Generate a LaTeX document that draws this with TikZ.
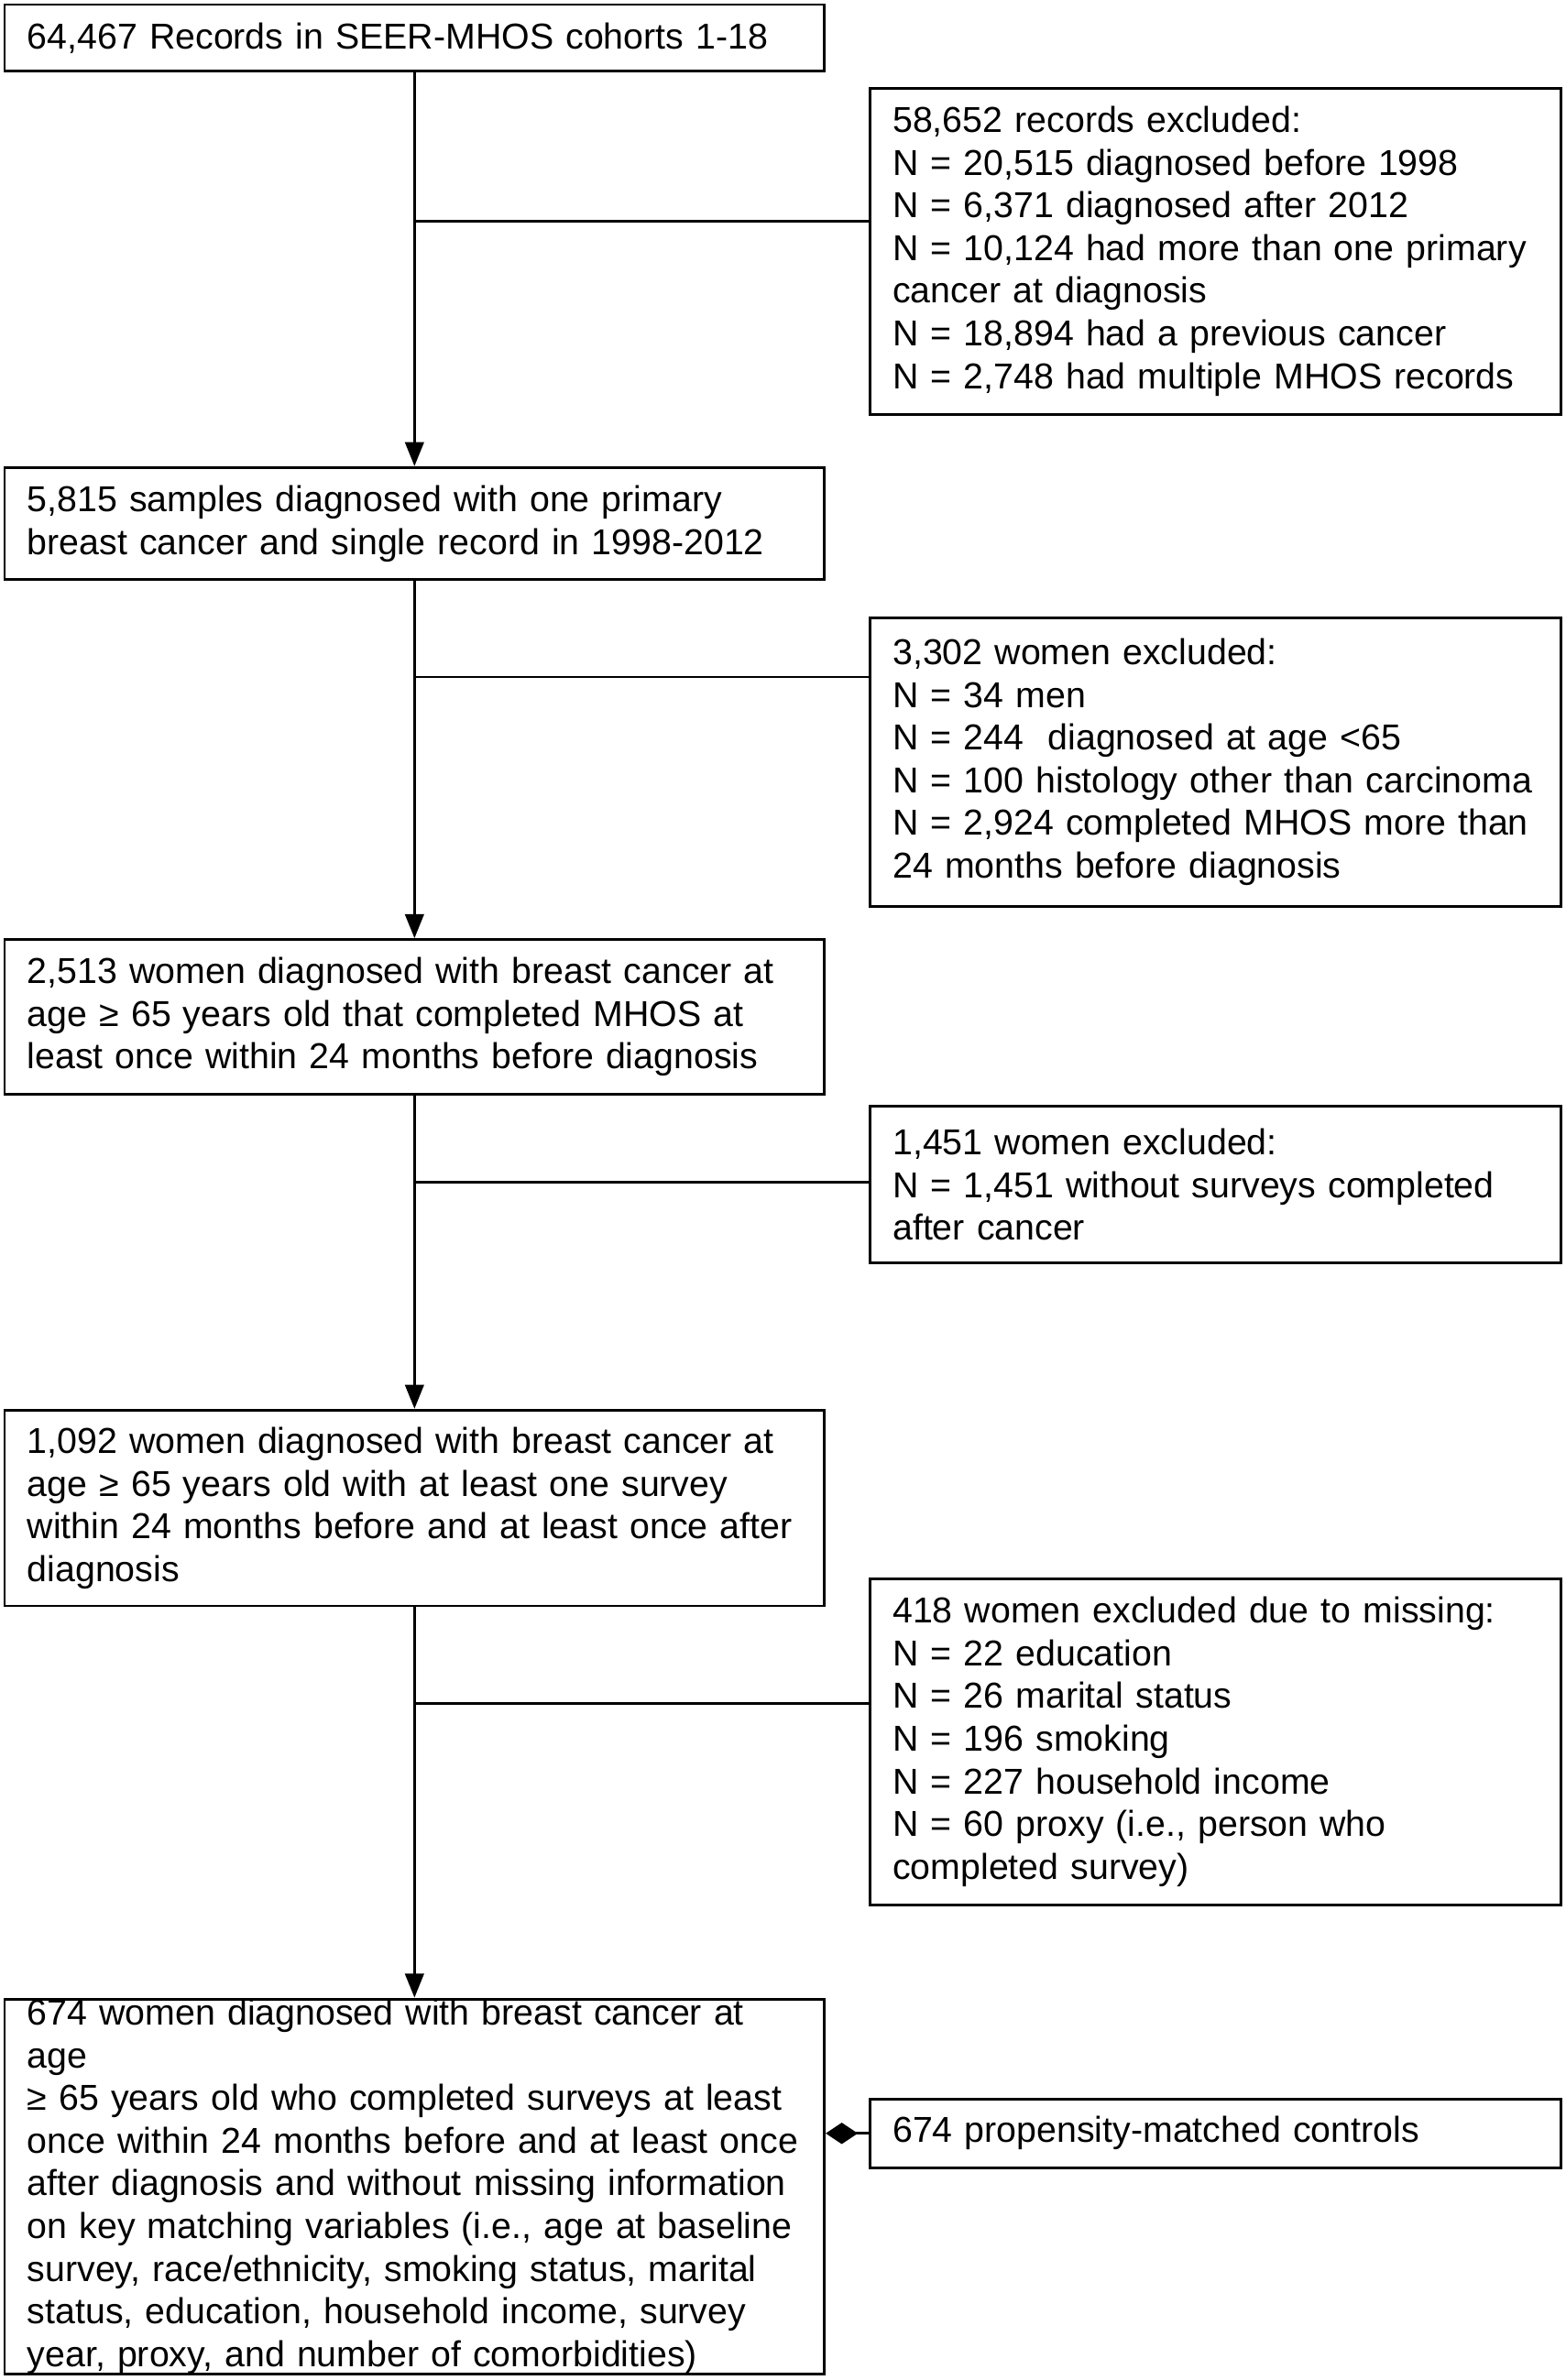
\documentclass[tikz,border=0pt]{standalone}
\usepackage{fontspec}
\setmainfont{Liberation Sans}
\usetikzlibrary{arrows.meta}
\tikzstyle{box}=[draw=black,line width=1pt,align=left,inner xsep=0.3cm,inner ysep=0pt,font=\fontsize{13.5}{16}\selectfont]
\tikzstyle{mainbox}=[box,minimum width=10.8cm,text width=10.2cm]
\tikzstyle{exbox}=[box,minimum width=9.1cm,text width=8.5cm]
\tikzstyle{flow}=[line width=1pt,-{Triangle[length=9pt,width=7pt]}]

\begin{document}
\begin{tikzpicture}
\useasboundingbox (0,0) rectangle (20.62,-31.36);
% main column
\node[mainbox,minimum height=0.88cm] (rec) at (5.46,-0.5) {64,467 Records in SEER-MHOS cohorts 1-18};
\node[mainbox,minimum height=1.48cm] (one) at (5.46,-6.9) {5,815 samples diagnosed with one primary\\breast cancer and single record in 1998-2012};
\node[mainbox,minimum height=2.04cm] (age) at (5.46,-13.4) {2,513 women diagnosed with breast cancer at\\age ≥ 65 years old that completed MHOS at\\least once within 24 months before diagnosis};
\node[mainbox,minimum height=2.58cm] (surv) at (5.46,-19.87) {1,092 women diagnosed with breast cancer at\\age ≥ 65 years old with at least one survey\\within 24 months before and at least once after\\diagnosis};
\node[mainbox,minimum height=4.9cm] (fin) at (5.46,-28.81) {674 women diagnosed with breast cancer at age\\≥ 65 years old who completed surveys at least\\once within 24 months before and at least once\\after diagnosis and without missing information\\on key matching variables (i.e., age at baseline\\survey, race/ethnicity, smoking status, marital\\status, education, household income, survey\\year, proxy, and number of comorbidities)};
% exclusions
\node[exbox,minimum height=4.3cm] (exA) at (16.01,-3.31) {58,652 records excluded:\\N = 20,515 diagnosed before 1998\\N = 6,371 diagnosed after 2012\\N = 10,124 had more than one primary\\cancer at diagnosis\\N = 18,894 had a previous cancer\\N = 2,748 had multiple MHOS records};
\node[exbox,minimum height=3.8cm] (exB) at (16.01,-10.04) {3,302 women excluded:\\N = 34 men\\N = 244 \ diagnosed at age <65\\N = 100 histology other than carcinoma\\N = 2,924 completed MHOS more than\\24 months before diagnosis};
\node[exbox,minimum height=2.06cm] (exC) at (16.01,-15.61) {1,451 women excluded:\\N = 1,451 without surveys completed\\after cancer};
\node[exbox,minimum height=4.3cm] (exD) at (16.01,-22.95) {418 women excluded due to missing:\\N = 22 education\\N = 26 marital status\\N = 196 smoking\\N = 227 household income\\N = 60 proxy (i.e., person who\\completed survey)};
\node[exbox,minimum height=0.9cm] (ctrl) at (16.01,-28.11) {674 propensity-matched controls};
% junctions
\coordinate (jA) at (5.46,-2.92);
\coordinate (jB) at (5.46,-8.92);
\coordinate (jC) at (5.46,-15.58);
\coordinate (jD) at (5.46,-22.44);
\draw[flow] (rec) -- (one);
\draw[flow] (one) -- (age);
\draw[flow] (age) -- (surv);
\draw[flow] (surv) -- (fin);
\draw[line width=1pt] (jA) -- (jA -| exA.west);
\draw[line width=1pt] (jB) -- (jB -| exB.west);
\draw[line width=1pt] (jC) -- (jC -| exC.west);
\draw[line width=1pt] (jD) -- (jD -| exD.west);
\draw[line width=1pt,{Diamond[length=12pt,width=8pt]}-] (fin.east |- ctrl.west) -- (ctrl.west);
\end{tikzpicture}
\end{document}
